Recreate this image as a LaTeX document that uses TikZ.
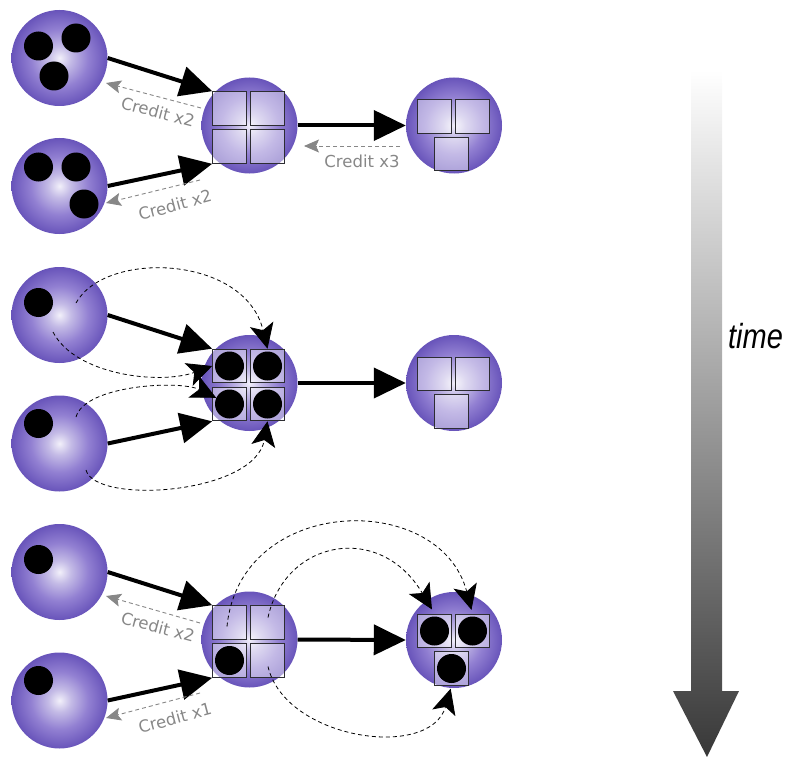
\documentclass[tikz,border=0pt]{standalone}
\usepackage{fontspec}
\setmainfont{DejaVu Sans}
\newfontfamily\labelfont{Liberation Sans}
\usetikzlibrary{arrows.meta}

\definecolor{orbc}{RGB}{242,240,250}
\definecolor{orbm}{RGB}{196,187,230}
\definecolor{orbd}{RGB}{146,128,210}
\definecolor{orbo}{RGB}{104,84,186}
\definecolor{sqline}{RGB}{45,45,50}
\definecolor{credgray}{RGB}{135,135,135}
\definecolor{timedark}{RGB}{56,56,56}

% soft purple sphere used for every buffer
\pgfdeclareradialshading{orb}{\pgfpointorigin}{%
  color(0bp)=(orbc); color(6bp)=(orbm); color(15bp)=(orbd);
  color(25bp)=(orbo); color(50bp)=(orbo)}

\begin{document}
\begin{tikzpicture}[x=1pt,y=-1pt,
  orb/.style={circle, minimum size=96pt, inner sep=0pt, shading=orb},
  slot/.style={rectangle, minimum size=33.5pt, inner sep=0pt,
    draw=sqline, line width=1.1pt, fill=white, fill opacity=0.45},
  token/.style={circle, fill=black, minimum size=29pt, inner sep=0pt},
  flow/.style={line width=4pt, -{Triangle[length=32pt,width=30pt]}},
  credit/.style={draw=credgray, line width=0.9pt, dash pattern=on 4pt off 3pt,
    -{Stealth[length=15pt,width=13pt,inset=3pt]}},
  credtxt/.style={text=credgray, font=\fontsize{16.5}{18}\selectfont, inner sep=0pt},
  hop/.style={black, line width=0.8pt, dash pattern=on 4pt off 3pt,
    -{Stealth[length=25pt,width=24pt,inset=6pt]}}
]
\useasboundingbox (0,0) rectangle (787,757);

% ---------- first stage: credits flow back ----------
\node[orb] (a1) at (59.5,58) {};
\node[orb] (a2) at (59.5,186) {};
\node[orb] (b1) at (249.5,125.5) {};
\node[orb] (c1) at (454,125.5) {};

\node[token] (a1-d1) at ([shift={(-21,-12)}]a1.center) {};
\node[token] (a1-d2) at ([shift={(16.5,-20)}]a1.center) {};
\node[token] (a1-d3) at ([shift={(-5.5,18)}]a1.center) {};
\node[token] (a2-d1) at ([shift={(-21,-19)}]a2.center) {};
\node[token] (a2-d2) at ([shift={(16.5,-19)}]a2.center) {};
\node[token] (a2-d3) at ([shift={(24.5,18)}]a2.center) {};

\node[slot] (b1tl) at ([shift={(-20,-17)}]b1.center) {};
\node[slot] (b1tr) at ([shift={(18,-17)}]b1.center) {};
\node[slot] (b1bl) at ([shift={(-20,21)}]b1.center) {};
\node[slot] (b1br) at ([shift={(18,21)}]b1.center) {};

\node[slot] (c1tl) at ([shift={(-19.5,-9)}]c1.center) {};
\node[slot] (c1tr) at ([shift={(18.5,-9)}]c1.center) {};
\node[slot] (c1b)  at ([shift={(-2.5,28.5)}]c1.center) {};

\draw[flow] (a1.east) -- (b1tl.north west);
\draw[flow] (a2.east) -- (b1bl.south west);
\draw[flow] (b1.east) -- (c1.west);

\draw[credit] ([shift={(-48.5,-17.5)}]b1.center) -- ([shift={(46.5,25)}]a1.center);
\draw[credit] ([shift={(-49.5,54.5)}]b1.center) -- ([shift={(46.5,17)}]a2.center);
\draw[credit] ([shift={(-54,20.5)}]c1.center) -- ([shift={(54.5,20.5)}]b1.center);

\node[credtxt, rotate=-15] (t1) at (158,112) {Credit x2};
\node[credtxt, rotate=15]  (t2) at (175,205) {Credit x2};
\node[credtxt]             (t3) at (362,161) {Credit x3};

% ---------- second stage: tokens move forward ----------
\node[orb] (a3) at (59.5,315) {};
\node[orb] (a4) at (59.5,443.5) {};
\node[orb] (b2) at (249.5,383) {};
\node[orb] (c2) at (454,383) {};

\node[token] (a3-d1) at ([shift={(-21,-12.5)}]a3.center) {};
\node[token] (a4-d1) at ([shift={(-21,-20)}]a4.center) {};

\node[slot] (b2tl) at ([shift={(-20,-17)}]b2.center) {};
\node[slot] (b2tr) at ([shift={(18,-17)}]b2.center) {};
\node[slot] (b2bl) at ([shift={(-20,21)}]b2.center) {};
\node[slot] (b2br) at ([shift={(18,21)}]b2.center) {};
\node[token] (b2tl-d) at (b2tl) {};
\node[token] (b2tr-d) at (b2tr) {};
\node[token] (b2bl-d) at (b2bl) {};
\node[token] (b2br-d) at (b2br) {};

\node[slot] (c2tl) at ([shift={(-19.5,-9)}]c2.center) {};
\node[slot] (c2tr) at ([shift={(18.5,-9)}]c2.center) {};
\node[slot] (c2b)  at ([shift={(-2.5,28.5)}]c2.center) {};

\draw[flow] (a3.east) -- (b2tl.north west);
\draw[flow] (a4.east) -- (b2bl.south west);
\draw[flow] (b2.east) -- (c2.west);

\draw[hop] ([shift={(16.5,-12)}]a3.center) .. controls +(29,-53) and +(-22.5,-94) .. (b2tr.north);
\draw[hop] ([shift={(-6.5,17)}]a3.center) .. controls +(22,43) and +(-52.75,19) .. (b2tl.west);
\draw[hop] ([shift={(16.5,-26.5)}]a4.center) .. controls +(9,-32) and +(-36.4,-17.9) .. (b2bl-d.155);
\draw[hop] ([shift={(26.5,26.5)}]a4.center) .. controls +(9,35) and +(-12.5,73.25) .. (b2br.south);

% ---------- third stage: tokens move on, credits return ----------
\node[orb] (a5) at (59.5,572) {};
\node[orb] (a6) at (59.5,700.5) {};
\node[orb] (b3) at (249.5,639.5) {};
\node[orb] (c3) at (454,640) {};

\node[token] (a5-d1) at ([shift={(-21,-12.5)}]a5.center) {};
\node[token] (a6-d1) at ([shift={(-21,-20)}]a6.center) {};

\node[slot] (b3tl) at ([shift={(-20,-17)}]b3.center) {};
\node[slot] (b3tr) at ([shift={(18,-17)}]b3.center) {};
\node[slot] (b3bl) at ([shift={(-20,21)}]b3.center) {};
\node[slot] (b3br) at ([shift={(18,21)}]b3.center) {};
\node[token] (b3bl-d) at (b3bl) {};

\node[slot] (c3tl) at ([shift={(-19.5,-9)}]c3.center) {};
\node[slot] (c3tr) at ([shift={(18.5,-9)}]c3.center) {};
\node[slot] (c3b)  at ([shift={(-2.5,28.5)}]c3.center) {};
\node[token] (c3tl-d) at (c3tl) {};
\node[token] (c3tr-d) at (c3tr) {};
\node[token] (c3b-d)  at (c3b) {};

\draw[flow] (a5.east) -- (b3tl.north west);
\draw[flow] (a6.east) -- (b3bl.south west);
\draw[flow] (b3.east) -- (c3.west);

\draw[credit] ([shift={(-49.5,-16.5)}]b3.center) -- ([shift={(46.5,24)}]a5.center);
\draw[credit] ([shift={(-49.5,53.5)}]b3.center) -- ([shift={(46.5,17.5)}]a6.center);

\node[credtxt, rotate=-15] (t4) at (158,627) {Credit x2};
\node[credtxt, rotate=15]  (t5) at (175,718) {Credit x1};

\draw[hop, shorten >=4pt] ([shift={(-2.5,4)}]b3tl.center) .. controls +(13,-132) and +(-32.5,-124) .. (c3tr.north);
\draw[hop, shorten >=5pt] ([shift={(0.5,-5)}]b3tr.center) .. controls +(17,-78) and +(-54.5,-92) .. (c3tl.north);
\draw[hop, shorten >=3pt] ([shift={(0.5,6)}]b3br.center) .. controls +(17,73) and +(-21.5,75) .. (c3b.south);

% ---------- time axis ----------
\shade[top color=white, bottom color=timedark]
  (691,70) -- (722,70) -- (722,691) -- (739,691) -- (707,757) -- (673,691) -- (691,691) -- cycle;
\node[font=\labelfont\itshape\fontsize{29}{30}\selectfont, inner sep=0pt] (time) at (755.5,336)
  {\scalebox{1}[1.2]{time}};
\end{tikzpicture}
\end{document}
